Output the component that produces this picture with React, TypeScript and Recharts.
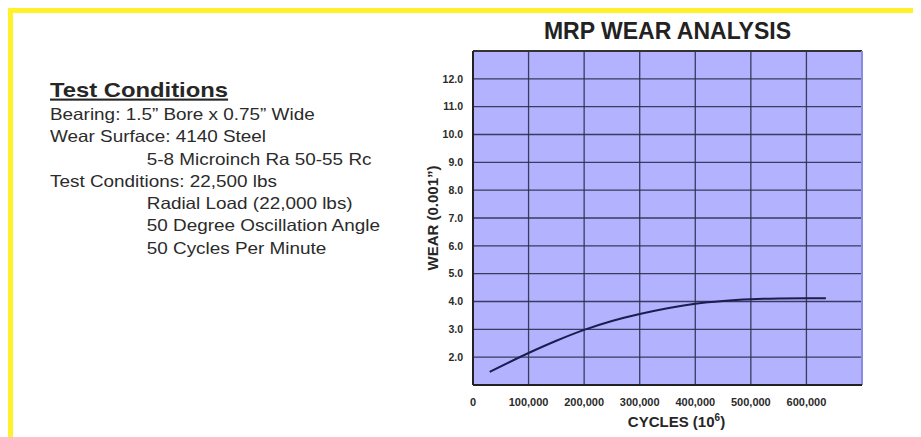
import React from "react";
import {
  LineChart,
  Line,
  XAxis,
  YAxis,
  CartesianGrid,
  ReferenceLine,
  Label,
} from "recharts";

const FONT = "'Liberation Sans', Arial, Helvetica, sans-serif";

// wear curve
const cycles = [30000, 100000, 150000, 200000, 250000, 300000, 350000, 400000, 450000, 500000, 550000, 600000, 635000];
const wear = [1.47, 2.15, 2.59, 2.98, 3.3, 3.55, 3.76, 3.92, 4.02, 4.08, 4.11, 4.12, 4.12];

const xTicks = [0, 100000, 200000, 300000, 400000, 500000, 600000, 700000];
const yTicks = [1, 2, 3, 4, 5, 6, 7, 8, 9, 10, 11, 12, 13];

const conditionLines = [
  { text: "Bearing: 1.5\u201D Bore x 0.75\u201D Wide", indent: false },
  { text: "Wear Surface: 4140 Steel", indent: false },
  { text: "5-8 Microinch Ra 50-55 Rc", indent: true },
  { text: "Test Conditions: 22,500 lbs", indent: false },
  { text: "Radial Load (22,000 lbs)", indent: true },
  { text: "50 Degree Oscillation Angle", indent: true },
  { text: "50 Cycles Per Minute", indent: true },
];

const data = cycles.map((c, i) => ({ cycles: c, wear: wear[i] }));

const fmtX = (v: number) => (v === 700000 ? "" : v.toLocaleString("en-US"));
const fmtY = (v: number) => (v === 1 || v === 13 ? "" : v.toFixed(1));

const GRID = "#2e2e4e";

export default function App() {
  return (
    <div
      style={{
        position: "relative",
        width: 913,
        height: 429,
        overflow: "hidden",
        background: "#fff",
        fontFamily: FONT,
      }}
    >
      {/* yellow frame */}
      <div
        style={{
          position: "absolute",
          left: 0,
          top: 0,
          width: 913,
          height: 460,
          boxSizing: "border-box",
          border: "5px solid #fff22a",
        }}
      />

      <svg
        width={913}
        height={429}
        style={{ position: "absolute", left: 0, top: 0 }}
      >
        <g transform="translate(-8,-8)" fontFamily={FONT}>
          <text
            x={667.5}
            y={39}
            textAnchor="middle"
            fontSize={23}
            fontWeight="bold"
            fill="#222"
          >
            MRP WEAR ANALYSIS
          </text>
          <g transform="translate(50,0) scale(1.134,1)">
            <text
              x={0}
              y={96.7}
              fontSize={21}
              fontWeight="bold"
              fill="#262626"
              textDecoration="underline"
            >
              Test Conditions
            </text>
          </g>
          <g transform="translate(50,0) scale(1.16,1)">
            {conditionLines.map((l, i) => (
              <text
                key={i}
                x={l.indent ? 83.4 : 0}
                y={120 + i * 22.3}
                fontSize={16.3}
                fill="#2b2b2b"
              >
                {l.text}
              </text>
            ))}
          </g>
        </g>
      </svg>

      <div style={{ position: "absolute", left: 392, top: 32 }}>
        <LineChart
          width={500}
          height={397}
          data={data}
          margin={{ top: 11, right: 38, left: 0, bottom: 0 }}
        >
          <CartesianGrid
            fill="#b2b2fe"
            stroke={GRID}
            strokeWidth={1.3}
            strokeOpacity={0.9}
          />
          <XAxis
            type="number"
            dataKey="cycles"
            domain={[0, 700000]}
            ticks={xTicks}
            interval={0}
            tickFormatter={fmtX}
            height={52}
            tickLine={false}
            tickSize={0}
            tickMargin={13}
            axisLine={{ stroke: "#222", strokeWidth: 2 }}
            tick={{ fill: "#2a2a2a", fontSize: 11, fontWeight: "bold", fontFamily: FONT }}
          >
            <Label
              position="insideBottom"
              content={(props: any) => {
                const vb = props.viewBox || {};
                return (
                  <text
                    x={vb.x + vb.width / 2 + 9}
                    y={vb.y + vb.height - 10}
                    textAnchor="middle"
                    fontSize={15}
                    fontWeight="bold"
                    fontFamily={FONT}
                    fill="#262626"
                  >
                    CYCLES (10
                    <tspan dy={-6} fontSize={10}>
                      6
                    </tspan>
                    <tspan dy={6}>)</tspan>
                  </text>
                );
              }}
            />
          </XAxis>
          <YAxis
            type="number"
            domain={[1, 13]}
            ticks={yTicks}
            interval={0}
            tickFormatter={fmtY}
            width={73}
            tickLine={false}
            tickSize={0}
            tickMargin={10}
            axisLine={{ stroke: "#222", strokeWidth: 2 }}
            tick={{ fill: "#2a2a2a", fontSize: 10.5, fontWeight: "bold", fontFamily: FONT }}
          >
            <Label
              value={"WEAR (0.001\u201D)"}
              angle={-90}
              position="insideLeft"
              offset={25}
              dx={8}
              style={{
                textAnchor: "middle",
                fontSize: 15,
                fontWeight: "bold",
                fontFamily: FONT,
                fill: "#262626",
              }}
            />
          </YAxis>
          <ReferenceLine y={13} stroke="#333" strokeWidth={2} />
          <ReferenceLine x={700000} stroke="#8a8ae0" strokeWidth={2} />
          <Line
            type="monotone"
            dataKey="wear"
            stroke="#1c1c50"
            strokeWidth={2}
            dot={false}
            isAnimationActive={false}
          />
        </LineChart>
      </div>
    </div>
  );
}
